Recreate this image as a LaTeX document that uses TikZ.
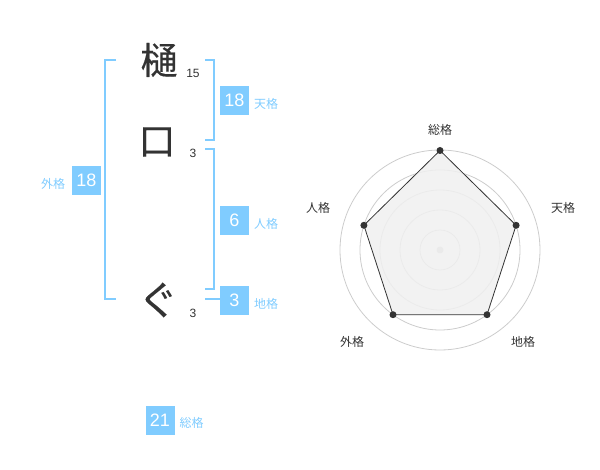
\documentclass[tikz,border=0pt]{standalone}
\usepackage{fontspec}
\setmainfont{Liberation Sans}
\newfontfamily\jp{Noto Sans CJK JP}
\newfontfamily\jpk[FakeBold=0.35]{Noto Sans CJK JP}
\definecolor{lb}{HTML}{80CCFF}
\definecolor{ink}{HTML}{333333}
\definecolor{ring}{HTML}{CCCCCC}
\definecolor{area}{HTML}{F0F0F0}
\tikzset{
  numbox/.style={fill=lb, text=white, minimum size=29pt, inner sep=0pt, font=\fontsize{18}{18}\selectfont},
  lbl/.style={text=lb, font=\jp\fontsize{12}{12}\selectfont, inner sep=0pt},
  bracket/.style={draw=lb, line width=2pt},
  kanji/.style={font=\jpk\fontsize{37}{37}\selectfont, text=ink, inner sep=0pt},
  strokenum/.style={font=\fontsize{12}{12}\selectfont, text=ink, inner sep=0pt},
  axislbl/.style={font=\jp\fontsize{12}{12}\selectfont, text=ink, inner sep=0pt},
  ringline/.style={draw=ring, line width=0.8pt},
  vdot/.style={circle, fill=ink, minimum size=7pt, inner sep=0pt},
}
\begin{document}
\begin{tikzpicture}[x=1pt,y=-1pt]
\useasboundingbox (0,0) rectangle (600,470);
% name characters
\node[kanji] (c1) at (159,60) {樋};
\node[kanji] (c2) at (157,142) {口};
\node[kanji, font=\jpk\fontsize{40}{40}\selectfont] (c3) at (158,300) {ぐ};
\node[strokenum] (n1) at (193,73) {15};
\node[strokenum] (n2) at (193,153) {3};
\node[strokenum] (n3) at (193,313) {3};
% brackets
\draw[bracket] (116,60) -- (105,60) -- (105,299) -- (116,299);
\draw[bracket] (205,60) -- (214,60) -- (214,140) -- (205,140);
\draw[bracket] (205,149) -- (214,149) -- (214,289) -- (205,289);
\draw[bracket] (205,299) -- (220,299);
% boxes and labels
\node[numbox] (ten) at (234.5,100.5) {18};
\node[lbl] (tenl) at (266,104) {天格};
\node[numbox] (jin) at (234.5,220.5) {6};
\node[lbl] (jinl) at (266,224) {人格};
\node[numbox] (chi) at (234.5,300.5) {3};
\node[lbl] (chil) at (266,304) {地格};
\node[numbox] (gai) at (86.5,180.5) {18};
\node[lbl] (gail) at (53,184) {外格};
\node[numbox] (sou) at (160,420) {21};
\node[lbl] (soul) at (191.5,423) {総格};
% radar chart
\foreach \r in {20,40,60,80,100} \draw[ringline] (440,250) circle[radius=\r];
\fill[ring] (440,250) circle[radius=3.5];
\coordinate (pS) at (440,150.5);
\coordinate (pT) at (516.1,225.3);
\coordinate (pC) at (487.0,314.7);
\coordinate (pG) at (393.0,314.7);
\coordinate (pJ) at (363.9,225.3);
\filldraw[fill=area, fill opacity=0.85, draw=ink, line width=0.8pt] (pS) -- (pT) -- (pC) -- (pG) -- (pJ) -- cycle;
\foreach \p in {pS,pT,pC,pG,pJ} \node[vdot] at (\p) {};
\node[axislbl] (aS) at (440,130) {総格};
\node[axislbl] (aT) at (563,208) {天格};
\node[axislbl] (aJ) at (318,208) {人格};
\node[axislbl] (aG) at (352,342) {外格};
\node[axislbl] (aC) at (523,342) {地格};
\end{tikzpicture}
\end{document}
